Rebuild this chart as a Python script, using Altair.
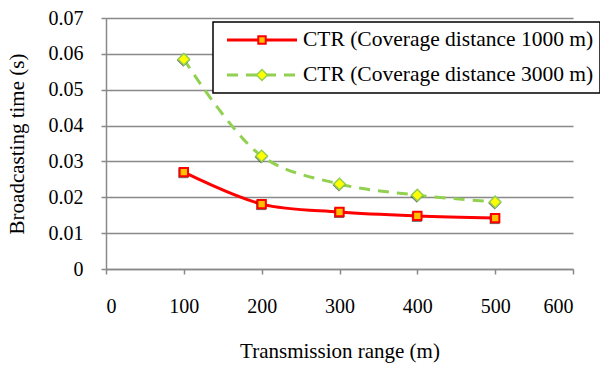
import altair as alt
import pandas as pd

ranges = [100, 200, 300, 400, 500]
ctr_1000 = [0.0270, 0.0181, 0.0159, 0.0148, 0.0142]
ctr_3000 = [0.0585, 0.0315, 0.0237, 0.0206, 0.0187]
series_names = ["CTR (Coverage distance 1000 m)", "CTR (Coverage distance 3000 m)"]
x_ticks = [0, 100, 200, 300, 400, 500, 600]
y_ticks = [0, 0.01, 0.02, 0.03, 0.04, 0.05, 0.06, 0.07]

FONT = "Liberation Serif"
GRID = "#898989"
RED = "#FF0000"
ORANGE = "#FFC000"
GREEN = "#92D050"
YELLOW = "#FFFF00"
DASH = [11, 8]

df1 = pd.DataFrame({"range": ranges, "time": ctr_1000})
df2 = pd.DataFrame({"range": ranges, "time": ctr_3000})

xaxis = alt.Axis(values=x_ticks, title="Transmission range (m)", grid=False,
                 labelPadding=22, tickSize=5, titleY=82, titleBaseline="middle",
                 labelFont=FONT, titleFont=FONT, labelFontSize=20, titleFontSize=21,
                 titleFontWeight="normal", labelColor="black", titleColor="black",
                 domainColor=GRID, tickColor=GRID, domainWidth=1.5, tickWidth=1.5)
yaxis = alt.Axis(values=y_ticks, title="Broadcasting time (s)", grid=True,
                 labelPadding=18, tickSize=5, titleX=-89, titleBaseline="middle",
                 labelExpr="datum.value == 0 ? '0' : format(datum.value, '.2f')",
                 labelFont=FONT, titleFont=FONT, labelFontSize=20, titleFontSize=21,
                 titleFontWeight="normal", labelColor="black", titleColor="black",
                 domainColor=GRID, tickColor=GRID, gridColor=GRID, domainWidth=1.5,
                 tickWidth=1.5, gridWidth=1.5)
xs = alt.X("range:Q", scale=alt.Scale(domain=[0, 600], nice=False), axis=xaxis)
ys = alt.Y("time:Q", scale=alt.Scale(domain=[0, 0.07], nice=False), axis=yaxis)

line1 = alt.Chart(df1).mark_line(color=RED, strokeWidth=3, interpolate="catmull-rom").encode(x=xs, y=ys)
shadow1 = alt.Chart(df1).mark_point(shape="square", filled=True, color="black", opacity=0.55,
                                    size=100, xOffset=-0.5, yOffset=1).encode(x=xs, y=ys)
pts1 = alt.Chart(df1).mark_point(shape="square", filled=True, fill=ORANGE, stroke=RED,
                                 strokeWidth=2, size=70, opacity=1).encode(x=xs, y=ys)
line2 = alt.Chart(df2).mark_line(color=GREEN, strokeWidth=3, strokeDash=DASH,
                                 interpolate="catmull-rom").encode(x=xs, y=ys)
shadow2 = alt.Chart(df2).mark_point(shape="diamond", filled=True, color="black", opacity=0.55,
                                    size=170, xOffset=-0.5, yOffset=1).encode(x=xs, y=ys)
pts2 = alt.Chart(df2).mark_point(shape="diamond", filled=True, fill=YELLOW, stroke=GREEN,
                                 strokeWidth=1.5, size=135, opacity=1).encode(x=xs, y=ys)

# legend (drawn manually, as in the reference box)
one = pd.DataFrame({"a": [0]})
leg_box = alt.Chart(one).mark_rect(fill="white", stroke="black", strokeWidth=1.5).encode(
    x=alt.value(107), x2=alt.value(494), y=alt.value(4), y2=alt.value(75))
leg_l1 = alt.Chart(one).mark_rule(color=RED, strokeWidth=3).encode(
    x=alt.value(121), x2=alt.value(191), y=alt.value(22))
leg_p1 = alt.Chart(one).mark_point(shape="square", filled=True, fill=ORANGE, stroke=RED,
                                   strokeWidth=2, size=55, opacity=1).encode(
    x=alt.value(156), y=alt.value(22))
leg_t1 = alt.Chart(one).mark_text(text=series_names[0], font=FONT, fontSize=21.5, align="left",
                                  baseline="middle").encode(x=alt.value(197), y=alt.value(22))
leg_l2 = alt.Chart(one).mark_rule(color=GREEN, strokeWidth=3, strokeDash=DASH).encode(
    x=alt.value(121), x2=alt.value(191), y=alt.value(57))
leg_p2 = alt.Chart(one).mark_point(shape="diamond", filled=True, fill=YELLOW, stroke=GREEN,
                                   strokeWidth=1.5, size=120, opacity=1).encode(
    x=alt.value(156), y=alt.value(57))
leg_t2 = alt.Chart(one).mark_text(text=series_names[1], font=FONT, fontSize=21.5, align="left",
                                  baseline="middle").encode(x=alt.value(197), y=alt.value(57))

chart = alt.layer(line1, line2, shadow1, pts1, shadow2, pts2, leg_box, leg_l1, leg_p1, leg_t1,
                  leg_l2, leg_p2, leg_t2).properties(
    width=467, height=251,
    autosize=alt.AutoSizeParams(type="none"),
    padding={"left": 106, "top": 18, "right": 27, "bottom": 96},
    background="white",
).configure_view(stroke=None)

chart.save("out.html", embed_options={"renderer": "svg", "actions": False})
